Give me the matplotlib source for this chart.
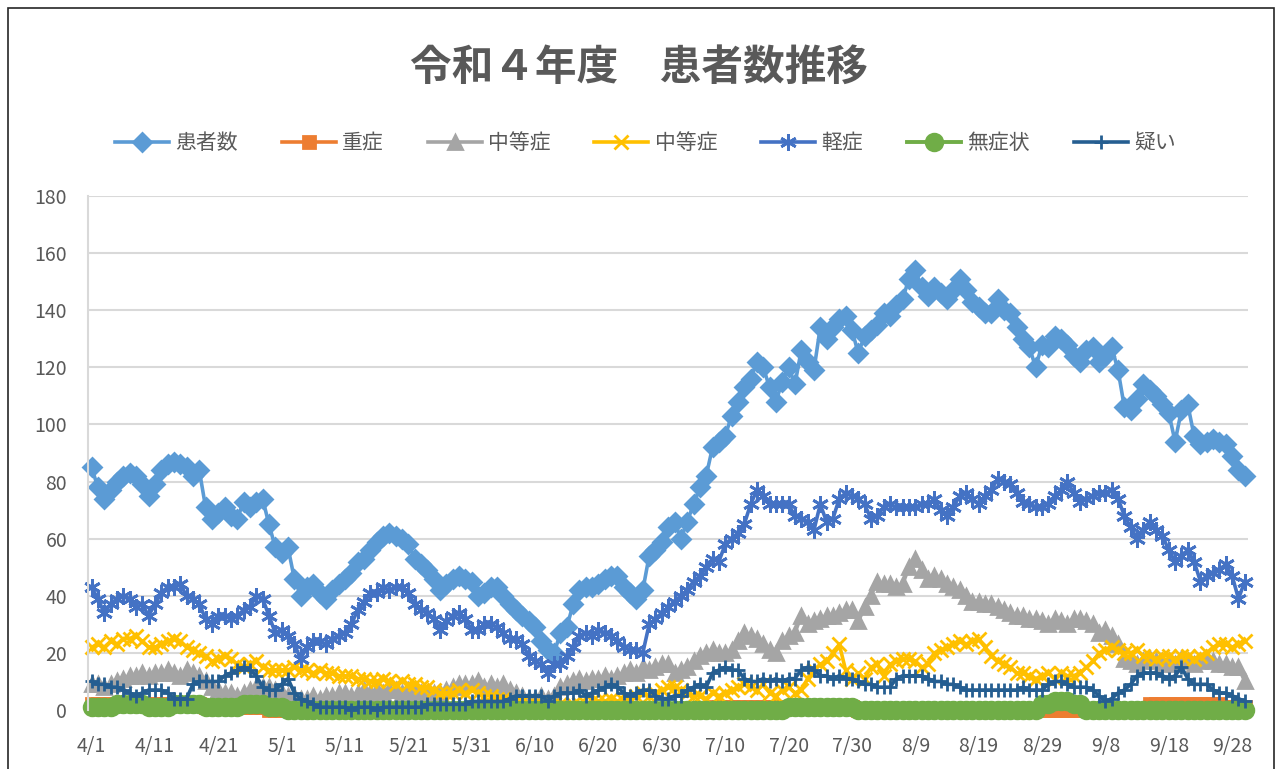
import numpy as np
import pandas as pd
import matplotlib
matplotlib.use('Agg')
import matplotlib.pyplot as plt
from matplotlib.patches import Rectangle

plt.rcParams['font.family'] = ['Noto Sans CJK JP', 'DejaVu Sans']

# ---- data: daily counts 4/1 .. 9/30 ----
dates = pd.date_range('2022-04-01', '2022-09-30', freq='D')
tick_labels = [f'{d.month}/{d.day}' for d in dates[::10]]

patients = [
    85, 78, 74, 77, 80, 82, 83, 82, 79, 75,
    79, 84, 86, 87, 86, 85, 82, 84, 71, 67,
    69, 71, 68, 67, 73, 71, 73, 74, 65, 57,
    55, 57, 46, 40, 43, 44, 41, 39, 42, 44,
    46, 48, 52, 53, 56, 59, 61, 62, 61, 60,
    58, 53, 51, 49, 46, 42, 44, 46, 47, 46,
    45, 40, 41, 43, 43, 40, 37, 35, 33, 31,
    29, 24, 21, 20, 27, 29, 37, 42, 43, 43,
    44, 46, 47, 47, 43, 41, 39, 42, 54, 56,
    59, 64, 66, 60, 66, 72, 78, 82, 92, 94,
    96, 103, 108, 113, 116, 122, 120, 113, 108, 115,
    120, 114, 126, 122, 119, 134, 130, 134, 137, 138,
    133, 125, 131, 133, 135, 139, 138, 142, 144, 151,
    154, 148, 145, 148, 146, 144, 147, 151, 147, 143,
    141, 139, 139, 144, 140, 139, 134, 130, 127, 120,
    128, 127, 131, 130, 128, 124, 122, 126, 127, 122,
    124, 127, 119, 106, 105, 109, 114, 112, 110, 107,
    104, 94, 105, 107, 96, 93, 94, 95, 94, 93,
    89, 84, 82,
]

severe = (
    [2] * 18 + [1] * 10 + [0] * 70 + [1] * 23 + [0] * 46 + [2] * 12 + [1] * 4
)

moderate_a = [
    9, 9, 8, 9, 10, 11, 12, 12, 13, 12,
    13, 13, 14, 13, 12, 14, 13, 12, 10, 8,
    7, 6, 6, 5, 6, 7, 8, 8, 8, 7,
    6, 5, 5, 4, 4, 5, 4, 5, 5, 6,
    6, 5, 6, 7, 6, 7, 6, 7, 7, 6,
    7, 6, 6, 5, 6, 6, 7, 8, 9, 9,
    9, 10, 8, 9, 8, 9, 7, 6, 5, 4,
    4, 5, 4, 5, 8, 9, 10, 11, 10, 11,
    11, 12, 11, 12, 13, 14, 13, 15, 14, 15,
    16, 16, 13, 14, 15, 17, 19, 20, 21, 20,
    20, 21, 24, 27, 26, 25, 23, 21, 20, 24,
    26, 27, 33, 30, 31, 32, 33, 33, 34, 35,
    35, 31, 36, 40, 45, 44, 44, 43, 44, 50,
    53, 49, 46, 47, 46, 44, 43, 42, 40, 38,
    38, 37, 37, 36, 35, 34, 33, 33, 32, 32,
    31, 30, 32, 31, 30, 32, 32, 31, 30, 27,
    28, 26, 23, 18, 17, 16, 17, 18, 17, 16,
    17, 16, 18, 17, 16, 17, 18, 17, 16, 16,
    15, 15, 10,
]

moderate_b = [
    22, 23, 22, 24, 23, 25, 25, 26, 24, 22,
    22, 23, 24, 25, 24, 22, 21, 20, 19, 17,
    18, 19, 18, 16, 15, 16, 17, 15, 14, 14,
    14, 14, 15, 14, 14, 13, 14, 13, 13, 12,
    12, 12, 11, 11, 10, 10, 11, 10, 9, 10,
    9, 9, 8, 8, 7, 6, 6, 6, 7, 6,
    7, 6, 5, 5, 4, 4, 3, 3, 3, 2,
    2, 2, 1, 2, 2, 1, 2, 2, 2, 3,
    3, 3, 4, 3, 3, 4, 5, 6, 5, 6,
    7, 8, 8, 7, 6, 5, 5, 4, 6, 5,
    6, 7, 8, 9, 8, 7, 9, 6, 5, 7,
    8, 6, 7, 11, 14, 16, 17, 20, 23, 14,
    11, 13, 11, 15, 16, 12, 16, 17, 18, 18,
    17, 15, 16, 20, 21, 22, 23, 24, 23, 24,
    25, 22, 19, 17, 16, 15, 13, 13, 12, 11,
    12, 13, 11, 13, 12, 12, 13, 15, 17, 20,
    21, 22, 21, 20, 20, 21, 19, 19, 18, 19,
    19, 18, 19, 19, 18, 19, 20, 22, 23, 23,
    22, 23, 24,
]

mild = [
    43, 39, 34, 37, 39, 40, 39, 36, 37, 33,
    37, 41, 43, 43, 44, 40, 39, 37, 32, 30,
    33, 33, 32, 33, 35, 36, 40, 39, 33, 27,
    28, 26, 23, 18, 22, 24, 24, 23, 25, 26,
    27, 30, 35, 38, 41, 41, 43, 42, 43, 43,
    41, 37, 35, 34, 32, 28, 31, 33, 34, 32,
    28, 28, 30, 30, 29, 27, 25, 25, 23, 19,
    17, 16, 13, 16, 16, 19, 22, 26, 27, 26,
    28, 27, 26, 24, 22, 21, 21, 20, 30, 32,
    34, 36, 38, 40, 42, 45, 47, 50, 53, 52,
    58, 60, 62, 65, 72, 77, 75, 72, 72, 72,
    72, 68, 67, 66, 63, 72, 66, 67, 74, 76,
    75, 74, 72, 67, 68, 71, 72, 71, 71, 71,
    71, 72, 72, 74, 70, 68, 71, 75, 76, 74,
    72, 75, 77, 81, 80, 79, 76, 73, 72, 71,
    71, 72, 75, 77, 80, 76, 73, 74, 75, 76,
    76, 77, 74, 68, 64, 60, 63, 66, 63, 61,
    56, 52, 54, 56, 52, 45, 47, 48, 49, 51,
    47, 39, 45,
]

asymptomatic = (
    [1] * 4 + [2] * 5 + [1] * 4 + [2] * 5 + [1] * 6 + [2] * 4 + [1] * 3
    + [0] * 79 + [1] * 11 + [0] * 29 + [2, 2, 3, 3, 3, 2, 2] + [0] * 26
)

suspected = [
    10, 9, 9, 8, 8, 7, 6, 5, 6, 7,
    7, 7, 6, 4, 4, 4, 9, 10, 10, 10,
    10, 12, 13, 14, 15, 14, 12, 8, 7, 7,
    9, 11, 6, 4, 3, 2, 1, 1, 1, 1,
    1, 0, 1, 1, 1, 0, 1, 1, 1, 1,
    1, 1, 1, 2, 2, 2, 2, 2, 2, 2,
    3, 3, 3, 3, 3, 3, 4, 5, 5, 5,
    5, 5, 3, 5, 6, 6, 6, 7, 5, 6,
    7, 8, 9, 8, 6, 5, 6, 7, 7, 5,
    4, 4, 5, 5, 7, 8, 9, 8, 13, 14,
    15, 14, 14, 11, 10, 10, 11, 10, 11, 10,
    11, 11, 14, 15, 14, 12, 12, 11, 12, 11,
    11, 10, 9, 9, 8, 8, 8, 11, 12, 12,
    12, 12, 11, 10, 10, 9, 9, 8, 7, 7,
    7, 7, 7, 7, 7, 7, 7, 8, 7, 7,
    7, 9, 10, 10, 9, 8, 8, 8, 7, 5,
    3, 4, 6, 7, 9, 12, 13, 13, 13, 12,
    11, 12, 15, 11, 9, 9, 9, 7, 6, 6,
    5, 4, 3,
]

series = [
    ('患者数', patients, '#5B9BD5', 'D', 9),
    ('重症', severe, '#ED7D31', 's', 9),
    ('中等症', moderate_a, '#A5A5A5', '^', 10),
    ('中等症', moderate_b, '#FFC000', 'x', 10),
    ('軽症', mild, '#4472C4', (6, 2, 0), 12),
    ('無症状', asymptomatic, '#70AD47', 'o', 12),
    ('疑い', suspected, '#255E91', '+', 10),
]

# ---- figure ----
fig = plt.figure(figsize=(12.78, 7.69), dpi=100)
ax = fig.add_axes([0.0689, 0.0767, 0.9076, 0.6684])

x = np.arange(len(dates))
for name, vals, color, marker, ms in series:
    ax.plot(x, vals, color=color, lw=2.8 if name == '無症状' else 2.6,
            marker=marker, markersize=ms,
            markerfacecolor=color, markeredgecolor=color, markeredgewidth=2,
            label=name, clip_on=False)

ax.set_ylim(0, 180)
ax.set_yticks(range(0, 181, 20))
ax.set_xlim(-0.55, len(dates) - 0.5)
ax.set_xticks(x[::10])
ax.set_xticklabels(tick_labels)
ax.grid(axis='y', color='#D9D9D9', lw=1.5)
ax.set_axisbelow(True)
for s in ['top', 'right', 'bottom']:
    ax.spines[s].set_visible(False)
ax.spines['left'].set_color('#D9D9D9')
ax.spines['left'].set_linewidth(1.5)
ax.tick_params(axis='both', length=0, labelsize=14, colors='#595959')
ax.tick_params(axis='y', pad=15)
ax.tick_params(axis='x', pad=19)

fig.text(0.5, 0.9116, '令和４年度\u3000患者数推移', ha='center', va='center',
         fontsize=30, fontweight='bold', color='#595959')

fig.legend(loc='center', bbox_to_anchor=(0.505, 0.814), ncol=7, frameon=False,
           fontsize=15, handlelength=2.6, columnspacing=2.1, handletextpad=0.3,
           labelcolor='#595959')

fig.patches.append(Rectangle((8 / 1278, -0.05), 1266 / 1278, 1 - 8 / 769 + 0.05,
                             transform=fig.transFigure, fill=False,
                             edgecolor='#262626', lw=1.2))

fig.savefig('out.png', dpi=100)
